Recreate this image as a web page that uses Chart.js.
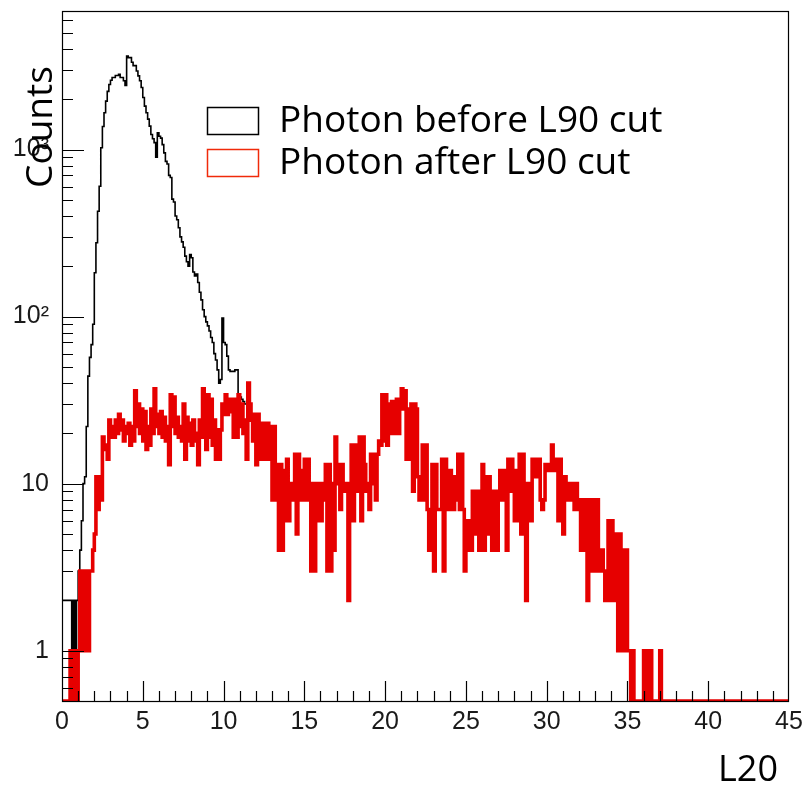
<!DOCTYPE html>
<html>
<head>
<meta charset="utf-8">
<script src="https://cdn.jsdelivr.net/npm/chart.js@4.4.1/dist/chart.umd.min.js"></script>
<style>
html,body{margin:0;padding:0;background:#ffffff;}
#wrap{width:803px;height:785px;position:relative;}
</style>
</head>
<body>
<div id="wrap"><canvas id="c" width="803" height="785"></canvas></div>
<script>
// ---------- data ----------
const xRange = [0, 45];            // L20 axis range
const binWidth = 0.1;              // histogram bin width in L20
const xTickValues = [0, 5, 10, 15, 20, 25, 30, 35, 40, 45];
const xTickLabels = ['0', '5', '10', '15', '20', '25', '30', '35', '40', '45'];
const yRange = [0.5, 6750];
const yTickValues = [1, 10, 100, 1000];
const yTickLabels = ['1', '10', '10\u00B2', '10\u00B3'];
const seriesNames = ['Photon before L90 cut', 'Photon after L90 cut'];
const xTitle = 'L20';
const yTitle = 'Counts';

// counts per bin (bin i covers [i*0.1, (i+1)*0.1)), "after L90 cut"
const afterCut = [
  0,0,0,0,0,1,1,0,1,0,
  1,3,1,3,1,3,1,3,3,4,
  5,11,7,11,8,19,17,16,14,24,
  19,22,19,24,20,26,21,24,18,22,
  20,23,17,22,18,36,22,30,20,28,
  18,27,16,22,17,28,20,37,22,26,
  20,27,19,25,18,22,13,34,22,33,
  20,25,19,22,18,30,14,25,18,23,
  17,24,18,20,13,24,19,37,24,16,
  34,19,32,17,24,14,21,14,21,30,
  26,34,26,32,27,32,19,32,19,34,
  22,30,20,24,14,40,30,24,18,26,
  13,26,23,14,23,23,14,23,14,22,
  8,22,8,13,4,13,4,12,6,14,
  6,10,8,10,15,5,15,12,8,12,
  14,8,14,10,3,10,3,10,6,10,
  6,10,8,13,3,13,3,10,4,19,
  10,13,7,13,10,9,10,2,10,17,
  6,17,15,9,19,6,19,13,9,10,
  7,15,10,15,8,15,18,17,34,18,
  34,17,30,20,31,20,31,32,20,32,
  37,28,36,14,28,14,30,9,30,28,
  11,8,11,17,8,17,7,4,7,13,
  3,13,7,7,7,14,3,14,12,7,
  12,11,7,11,8,15,7,15,7,3,
  6,4,6,4,9,5,9,9,4,9,
  13,4,11,5,11,9,4,9,9,4,
  9,12,8,12,10,4,14,9,14,12,
  6,12,6,15,5,15,10,2,10,8,
  6,14,11,14,11,14,8,7,8,13,
  12,13,12,17,12,14,14,6,14,11,
  5,11,10,8,10,8,10,7,10,7,
  8,4,8,4,8,2,8,8,3,8,
  3,8,4,3,4,3,2,3,6,2,
  6,5,2,5,1,5,1,4,1,4,
  1,1,0,1,0,0,0,0,0,0,
  1,1,0,1,1,0,0,0,0,0,
  1,0,0,0,0,0,0,0,0,0,
  0,0,0,0,0,0,0,0,0,0,
  0,0,0,0,0,0,0,0,0,0,
  0,0,0,0,0,0,0,0,0,0,
  0,0,0,0,0,0,0,0,0,0,
  0,0,0,0,0,0,0,0,0,0,
  0,0,0,0,0,0,0,0,0,0,
  0,0,0,0,0,0,0,0,0,0
];

// "before L90 cut": bins 0..116 read separately; above that the two curves coincide
const beforeCutLow = [
  2,2,2,2,2,2,1,2,1,2,
  3,4,6,10,11,22,44,57,68,90,
  183,277,427,603,1025,1373,1660,1950,2230,2450,
  2600,2700,2700,2775,2775,2820,2700,2700,2580,2420,
  3630,3550,3550,3330,3180,3180,2950,2760,2580,2350,
  2050,1820,1660,1520,1380,1230,1160,1100,900,1260,
  1200,1170,1070,955,850,820,700,680,505,485,
  400,380,340,300,280,260,230,213,200,235,
  225,185,175,180,160,140,126,110,100,93,
  88,82,75,70,60,55,48,40,42,98,
  70,68,58,48,47,47,47,48,48,33,
  33,32,31,30,30,30,30
];

// ---------- build datasets ----------
const beforeCut = afterCut.map((v, i) => i < beforeCutLow.length ? Math.max(beforeCutLow[i], v) : v);

function histPoints(counts) {
  const pts = counts.map((v, i) => ({ x: +(i * binWidth).toFixed(2), y: v > 0 ? v : yRange[0] }));
  const last = counts[counts.length - 1];
  pts.push({ x: xRange[1], y: last > 0 ? last : yRange[0] });
  return pts;
}

function zeroPad(s) { s.paddingLeft = 0; s.paddingRight = 0; s.paddingTop = 0; s.paddingBottom = 0; }

const rootPlugin = {
  id: 'rootStyle',
  afterDraw(chart) {
    const ctx = chart.ctx;
    const xs = chart.scales.x, ys = chart.scales.y;
    const a = chart.chartArea;
    ctx.save();
    // frame
    ctx.strokeStyle = '#000';
    ctx.lineWidth = 1.2;
    ctx.strokeRect(a.left + 0.5, a.top + 0.5, a.right - a.left - 1, a.bottom - a.top);
    // x ticks (inward)
    ctx.beginPath();
    for (let k = xRange[0] + 1; k < xRange[1]; k++) {
      const px = Math.round(xs.getPixelForValue(k)) + 0.5;
      const len = (k % 5 === 0) ? 20 : 10;
      ctx.moveTo(px, a.bottom);
      ctx.lineTo(px, a.bottom - len);
    }
    // y ticks (inward)
    for (let d = -1; d <= 3; d++) {
      for (let m = 1; m <= 9; m++) {
        const v = m * Math.pow(10, d);
        if (v <= yRange[0] || v >= yRange[1]) continue;
        const py = Math.round(ys.getPixelForValue(v)) + 0.5;
        const len = (m === 1) ? 22 : 11;
        ctx.moveTo(a.left, py);
        ctx.lineTo(a.left + len, py);
      }
    }
    ctx.stroke();

    // legend
    const items = [
      { name: seriesNames[0], color: '#000000', y: 107 },
      { name: seriesNames[1], color: '#f02a0a', y: 149 }
    ];
    ctx.font = '37px "Open Sans"';
    ctx.textAlign = 'left';
    ctx.textBaseline = 'alphabetic';
    items.forEach(it => {
      ctx.strokeStyle = it.color;
      ctx.lineWidth = 1.5;
      ctx.strokeRect(207.5, it.y + 0.5, 51, 27);
      ctx.fillStyle = '#000';
      ctx.fillText(it.name, 279, it.y + 25);
    });

    // axis titles
    ctx.fillStyle = '#000';
    ctx.font = '36px "Open Sans"';
    ctx.textAlign = 'right';
    ctx.fillText(xTitle, 778, 781);
    ctx.save();
    ctx.translate(52, 127);
    ctx.rotate(-Math.PI / 2);
    ctx.textAlign = 'center';
    ctx.font = '37px "Open Sans"';
    ctx.fillText(yTitle, 0, 0);
    ctx.restore();
    ctx.restore();
  }
};

new Chart(document.getElementById('c'), {
  type: 'line',
  data: {
    datasets: [
      {
        label: seriesNames[1],
        data: histPoints(afterCut),
        borderColor: '#e60000',
        borderWidth: 3.6,
        stepped: true,
        pointRadius: 0,
        fill: false,
        order: 1
      },
      {
        label: seriesNames[0],
        data: histPoints(beforeCut),
        borderColor: '#000000',
        borderWidth: 1.6,
        stepped: true,
        pointRadius: 0,
        fill: false,
        order: 2
      }
    ]
  },
  options: {
    responsive: false,
    animation: false,
    devicePixelRatio: 1,
    parsing: false,
    layout: { padding: { top: 11, right: 14, left: 0, bottom: 0 } },
    plugins: { legend: { display: false }, tooltip: { enabled: false } },
    scales: {
      x: {
        type: 'linear',
        min: xRange[0], max: xRange[1],
        grid: { display: false, drawTicks: false },
        border: { display: false },
        afterBuildTicks: s => { s.ticks = xTickValues.map(v => ({ value: v })); },
        afterFit: s => { s.height = 84; zeroPad(s); },
        ticks: {
          autoSkip: false, maxRotation: 0, padding: 6,
          color: '#1a1a1a',
          font: { family: '"Liberation Sans", Arial, sans-serif', size: 25 },
          callback: v => xTickLabels[xTickValues.indexOf(v)]
        }
      },
      y: {
        type: 'logarithmic',
        min: yRange[0], max: yRange[1],
        grid: { display: false, drawTicks: false },
        border: { display: false },
        afterBuildTicks: s => { s.ticks = yTickValues.map(v => ({ value: v })); },
        afterFit: s => { s.width = 62; zeroPad(s); },
        ticks: {
          autoSkip: false, padding: 13,
          color: '#1a1a1a',
          font: { family: '"Liberation Sans", Arial, sans-serif', size: 25 },
          callback: v => { const i = yTickValues.indexOf(v); return i >= 0 ? yTickLabels[i] : ''; }
        }
      }
    }
  },
  plugins: [rootPlugin]
});
</script>
</body>
</html>
